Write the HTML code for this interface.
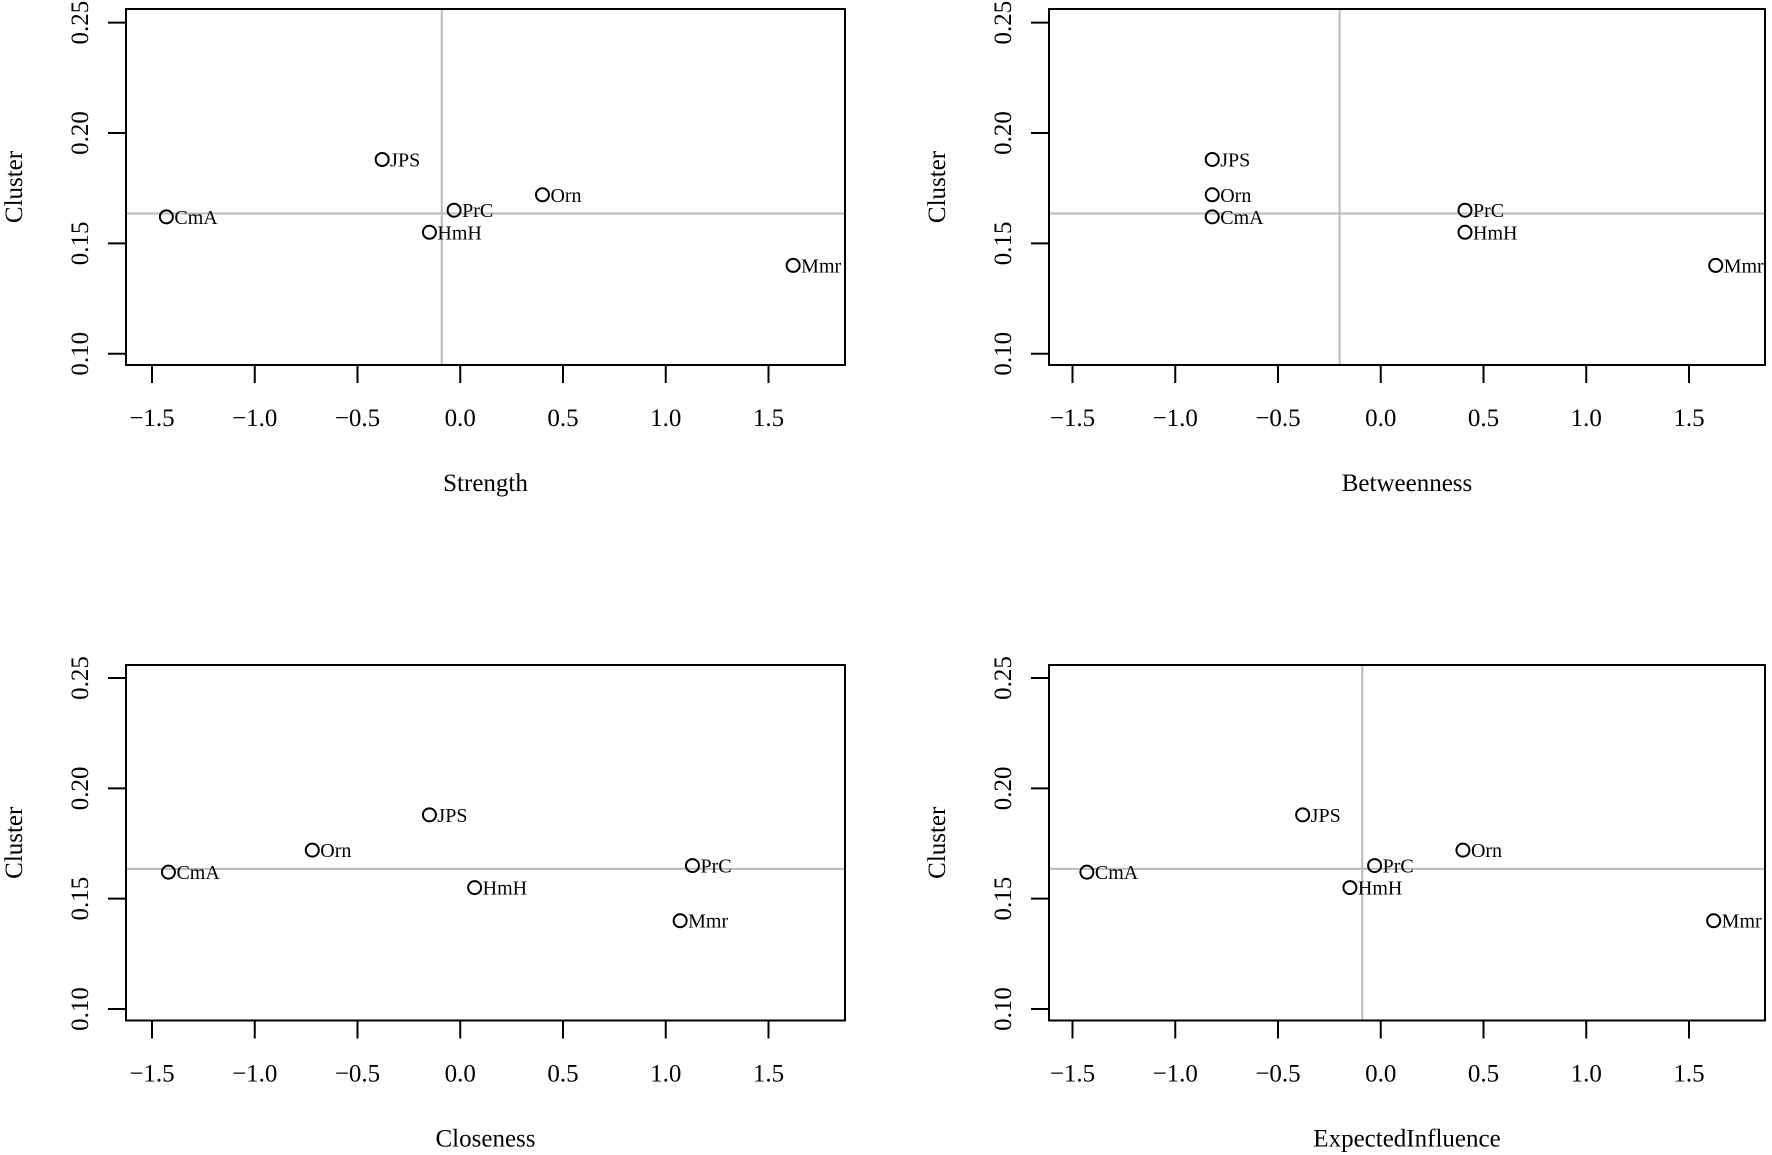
<!DOCTYPE html>
<html><head><meta charset="utf-8"><style>
html,body{margin:0;padding:0;background:#fff;}
svg{display:block;font-family:"Liberation Serif",serif;}
</style></head><body>
<svg id="chart" width="1772" height="1155" viewBox="0 0 1772 1155" xmlns="http://www.w3.org/2000/svg"></svg>
<script>
const nodeLabels = ["CmA","JPS","PrC","HmH","Orn","Mmr"];
const clusterValues = [0.162,0.188,0.165,0.155,0.172,0.140];
const strengthValues = [-1.43,-0.38,-0.03,-0.15,0.40,1.62];
const betweennessValues = [-0.82,-0.82,0.41,0.41,-0.82,1.63];
const closenessValues = [-1.42,-0.15,1.13,0.07,-0.72,1.07];
const expectedInfluenceValues = [-1.43,-0.38,-0.03,-0.15,0.40,1.62];
const xTicks = [-1.5,-1.0,-0.5,0.0,0.5,1.0,1.5];
const xTickLabels = ["\u22121.5","\u22121.0","\u22120.5","0.0","0.5","1.0","1.5"];
const yTicks = [0.10,0.15,0.20,0.25];
const yTickLabels = ["0.10","0.15","0.20","0.25"];
const panelTitles = ["Strength","Betweenness","Closeness","ExpectedInfluence"];
const vRefs = [-0.09,-0.2,null,-0.09];
const hRef = 0.1635;

const NS="http://www.w3.org/2000/svg";
const svg=document.getElementById('chart');
function mk(tag,attrs,parent){const e=document.createElementNS(NS,tag);for(const k in attrs)e.setAttribute(k,attrs[k]);(parent||svg).appendChild(e);return e;}

const panels=[
 {xs:strengthValues, bx0:126,bx1:845,by0:9,by1:365, x15:152, y25:22.6,y10:353.7},
 {xs:betweennessValues, bx0:1049,bx1:1765,by0:9,by1:365, x15:1072.5, y25:22.6,y10:353.7},
 {xs:closenessValues, bx0:126,bx1:845,by0:665,by1:1020.5, x15:152, y25:678,y10:1009},
 {xs:expectedInfluenceValues, bx0:1049,bx1:1765,by0:665,by1:1020.5, x15:1072.5, y25:678,y10:1009}
];
const unit=205.5;

panels.forEach((p,i)=>{
  const g=mk('g',{});
  
  
  const X=v=>p.x15+(v+1.5)*unit;
  const Y=v=>p.y10+(v-0.10)/0.15*(p.y25-p.y10);
  // reference lines
  const hl=mk('line',{x1:p.bx0,x2:p.bx1,y1:Y(hRef),y2:Y(hRef),stroke:'#bbb','stroke-width':2},g);
  
  
  if(vRefs[i]!==null){
    const vl=mk('line',{x1:X(vRefs[i]),x2:X(vRefs[i]),y1:p.by0,y2:p.by1,stroke:'#bbb','stroke-width':2},g);
    
    
  }
  const box=mk('rect',{x:p.bx0,y:p.by0,width:p.bx1-p.bx0,height:p.by1-p.by0,fill:'none',stroke:'#000','stroke-width':2},g);
  
  
  // x ticks
  xTicks.forEach((t,j)=>{
    mk('line',{x1:X(t),x2:X(t),y1:p.by1,y2:p.by1+18,stroke:'#000','stroke-width':2},g);
    const tx=mk('text',{x:X(t),y:p.by1+61,'text-anchor':'middle','font-size':25},g);
    tx.textContent=xTickLabels[j];
    
    
  });
  // y ticks
  yTicks.forEach((t,j)=>{
    mk('line',{x1:p.bx0,x2:p.bx0-18,y1:Y(t),y2:Y(t),stroke:'#000','stroke-width':2},g);
    const tx=mk('text',{x:0,y:0,'text-anchor':'middle','font-size':25,transform:`translate(${p.bx0-38},${Y(t)}) rotate(-90)`},g);
    tx.textContent=yTickLabels[j];
    
    
  });
  const xl=mk('text',{x:(p.bx0+p.bx1)/2,y:p.by1+126,'text-anchor':'middle','font-size':25},g);
  xl.textContent=panelTitles[i];
  
  
  const yl=mk('text',{x:0,y:0,'text-anchor':'middle','font-size':25,transform:`translate(${p.bx0-104},${(p.by0+p.by1)/2}) rotate(-90)`},g);
  yl.textContent='Cluster';
  
  
  // points
  nodeLabels.forEach((lab,k)=>{
    const cx=X(p.xs[k]), cy=Y(clusterValues[k]);
    const c=mk('circle',{cx:cx,cy:cy,r:6.5,fill:'none',stroke:'#000','stroke-width':2},g);
    
    
    const t=mk('text',{x:cx+8,y:cy+7,'font-size':20},g);
    t.textContent=lab;
    
    
  });
});
</script>
</body></html>
